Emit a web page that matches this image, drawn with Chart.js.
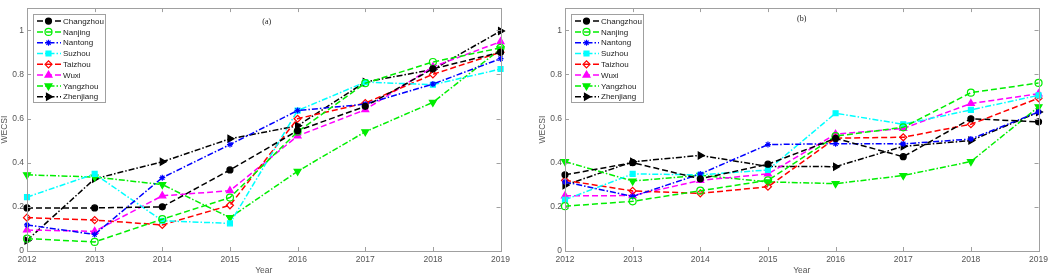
<!DOCTYPE html>
<html lang="en">
<head>
    <meta charset="UTF-8">
    <title>WECSI 2012-2019</title>
    <script src="https://cdn.jsdelivr.net/npm/chart.js"></script>
    <style>
        body {
            margin: 0;
            padding: 0;
            background-color: #ffffff;
            width: 1052px;
            height: 276px;
            position: relative;
            overflow: hidden;
        }
        .panel {
            position: absolute;
            top: 0;
            width: 514px;
            height: 276px;
        }
    </style>
</head>
<body>
    <div class="panel" style="left: 0px;"><canvas id="chartA" width="514" height="276"></canvas></div>
    <div class="panel" style="left: 538px;"><canvas id="chartB" width="514" height="276"></canvas></div>

    <script>
        // x categories and y ticks
        const years = ['2012', '2013', '2014', '2015', '2016', '2017', '2018', '2019'];
        const yTicks = [0, 0.2, 0.4, 0.6, 0.8, 1];
        const cities = ['Changzhou', 'Nanjing', 'Nantong', 'Suzhou', 'Taizhou', 'Wuxi', 'Yangzhou', 'Zhenjiang'];

        // panel (a)
        const changzhouA = [0.195, 0.195, 0.20, 0.367, 0.545, 0.655, 0.825, 0.90];
        const nanjingA   = [0.056, 0.041, 0.144, 0.242, 0.54, 0.76, 0.856, 0.92];
        const nantongA   = [0.118, 0.075, 0.332, 0.482, 0.636, 0.665, 0.756, 0.871];
        const suzhouA    = [0.244, 0.349, 0.137, 0.125, 0.636, 0.765, 0.753, 0.824];
        const taizhouA   = [0.151, 0.14, 0.118, 0.207, 0.599, 0.67, 0.80, 0.90];
        const wuxiA      = [0.095, 0.089, 0.25, 0.273, 0.521, 0.64, 0.834, 0.948];
        const yangzhouA  = [0.345, 0.335, 0.301, 0.151, 0.361, 0.54, 0.673, 0.915];
        const zhenjiangA = [0.048, 0.327, 0.404, 0.508, 0.567, 0.765, 0.822, 0.996];

        // panel (b)
        const changzhouB = [0.345, 0.40, 0.327, 0.393, 0.51, 0.427, 0.599, 0.585];
        const nanjingB   = [0.203, 0.225, 0.273, 0.32, 0.52, 0.56, 0.717, 0.761];
        const nantongB   = [0.313, 0.247, 0.349, 0.482, 0.486, 0.485, 0.507, 0.63];
        const suzhouB    = [0.232, 0.349, 0.345, 0.367, 0.624, 0.574, 0.639, 0.705];
        const taizhouB   = [0.32, 0.272, 0.261, 0.291, 0.511, 0.515, 0.574, 0.692];
        const wuxiB      = [0.25, 0.251, 0.32, 0.349, 0.529, 0.555, 0.668, 0.712];
        const yangzhouB  = [0.405, 0.317, 0.343, 0.313, 0.305, 0.342, 0.405, 0.653];
        const zhenjiangB = [0.298, 0.404, 0.433, 0.383, 0.382, 0.474, 0.50, 0.629];

        // matlab-like line specs, same order as cities
        const DASH = [6, 3];
        const DASHDOT = [6, 2, 1.5, 2];
        const seriesStyle = [
            { color: '#000000', dash: DASH,    marker: 'circle',   rot: 0,   fill: true,  r: 3 },
            { color: '#00ee00', dash: DASH,    marker: 'circle',   rot: 0,   fill: false, r: 3.5 },
            { color: '#0000ff', dash: DASHDOT, marker: 'star',     rot: 0,   fill: false, r: 3 },
            { color: '#00ffff', dash: DASHDOT, marker: 'rect',     rot: 0,   fill: true,  r: 3.5 },
            { color: '#ff0000', dash: DASH,    marker: 'rectRot',  rot: 0,   fill: false, r: 3.5 },
            { color: '#ff00ff', dash: DASH,    marker: 'triangle', rot: 0,   fill: true,  r: 4 },
            { color: '#00ee00', dash: DASHDOT, marker: 'triangle', rot: 180, fill: true,  r: 4 },
            { color: '#000000', dash: DASHDOT, marker: 'triangle', rot: 90,  fill: true,  r: 4 }
        ];

        const FONT = "'Liberation Sans', Arial, sans-serif";

        const makeDatasets = (seriesList) => seriesList.map((vals, i) => {
            const s = seriesStyle[i];
            return {
                label: cities[i],
                data: vals,
                borderColor: s.color,
                borderWidth: 1.5,
                borderDash: s.dash,
                tension: 0,
                fill: false,
                pointStyle: s.marker,
                pointRotation: s.rot,
                pointRadius: s.r,
                pointBorderWidth: 1.2,
                pointBorderColor: s.color,
                pointBackgroundColor: s.fill ? s.color : 'rgba(0,0,0,0)'
            };
        });

        // box, inward ticks, in-plot legend and panel tag
        const matlabFrame = {
            id: 'matlabFrame',
            afterDraw(chart, args, opts) {
                const { ctx, chartArea: a, scales: { x, y } } = chart;
                ctx.save();
                ctx.setLineDash([]);
                ctx.strokeStyle = '#a0a0a0';
                ctx.lineWidth = 1;
                ctx.strokeRect(Math.round(a.left) + 0.5, Math.round(a.top) + 0.5,
                    Math.round(a.right - a.left), Math.round(a.bottom - a.top));
                ctx.beginPath();
                x.ticks.forEach((t, i) => {
                    const px = Math.round(x.getPixelForTick(i)) + 0.5;
                    ctx.moveTo(px, a.bottom); ctx.lineTo(px, a.bottom - 4);
                    ctx.moveTo(px, a.top); ctx.lineTo(px, a.top + 4);
                });
                y.ticks.forEach((t, i) => {
                    const py = Math.round(y.getPixelForTick(i)) + 0.5;
                    ctx.moveTo(a.left, py); ctx.lineTo(a.left + 4, py);
                    ctx.moveTo(a.right, py); ctx.lineTo(a.right - 4, py);
                });
                ctx.stroke();

                // panel tag
                ctx.fillStyle = '#222';
                ctx.font = "8px 'Liberation Serif', 'Times New Roman', serif";
                ctx.textAlign = 'center';
                ctx.textBaseline = 'middle';
                ctx.fillText(opts.tag, (a.left + a.right) / 2 + opts.tagDx, a.top + opts.tagDy);

                // legend box
                const bx = a.left + 6, by = a.top + 5.5, bw = 72, bh = 88;
                ctx.fillStyle = '#ffffff';
                ctx.fillRect(bx, by, bw, bh);
                ctx.strokeStyle = '#a0a0a0';
                ctx.strokeRect(Math.round(bx) + 0.5, Math.round(by) + 0.5, bw, bh);

                ctx.font = '8px ' + FONT;
                ctx.textAlign = 'left';
                chart.data.datasets.forEach((ds, i) => {
                    const ry = by + 7.5 + i * 10.8;
                    ctx.save();
                    ctx.strokeStyle = ds.borderColor;
                    ctx.lineWidth = 1.5;
                    ctx.setLineDash(ds.borderDash);
                    ctx.beginPath();
                    ctx.moveTo(bx + 4, ry);
                    ctx.lineTo(bx + 28, ry);
                    ctx.stroke();
                    ctx.setLineDash([]);
                    ctx.fillStyle = ds.pointBackgroundColor;
                    ctx.lineWidth = 1.2;
                    if (Chart.helpers && Chart.helpers.drawPoint) {
                        Chart.helpers.drawPoint(ctx, {
                            pointStyle: ds.pointStyle,
                            rotation: ds.pointRotation,
                            radius: ds.pointRadius,
                            borderWidth: 1.2
                        }, bx + 15.5, ry);
                    }
                    ctx.restore();
                    ctx.fillStyle = '#222';
                    ctx.fillText(ds.label, bx + 30, ry + 0.5);
                });
                ctx.restore();
            }
        };

        const makeOptions = (tag, tagDx, tagDy) => ({
            responsive: false,
            animation: false,
            events: [],
            layout: { padding: { top: 1, right: 11, bottom: 0, left: 0 } },
            plugins: {
                legend: { display: false },
                tooltip: { enabled: false },
                matlabFrame: { tag: tag, tagDx: tagDx, tagDy: tagDy }
            },
            scales: {
                x: {
                    type: 'category',
                    offset: false,
                    grid: { display: false, drawTicks: false },
                    border: { display: false },
                    ticks: {
                        padding: 4,
                        color: '#555',
                        maxRotation: 0,
                        autoSkip: false,
                        font: { family: FONT, size: 8.5 }
                    },
                    title: {
                        display: true,
                        text: 'Year',
                        color: '#555',
                        padding: 0,
                        font: { family: FONT, size: 8.5 }
                    },
                    afterFit: (scale) => { scale.height = 25; }
                },
                y: {
                    min: 0,
                    max: 1.1,
                    grid: { display: false, drawTicks: false },
                    border: { display: false },
                    afterBuildTicks: (scale) => {
                        scale.ticks = yTicks.map(v => ({ value: v }));
                    },
                    ticks: {
                        padding: 3,
                        color: '#555',
                        font: { family: FONT, size: 8.5 },
                        callback: (v) => String(Math.round(v * 10) / 10)
                    },
                    title: {
                        display: true,
                        text: 'WECSI',
                        color: '#555',
                        padding: 0,
                        font: { family: FONT, size: 8.5 }
                    },
                    afterFit: (scale) => { scale.width = 27; }
                }
            }
        });

        new Chart(document.getElementById('chartA').getContext('2d'), {
            type: 'line',
            data: {
                labels: years,
                datasets: makeDatasets([changzhouA, nanjingA, nantongA, suzhouA, taizhouA, wuxiA, yangzhouA, zhenjiangA])
            },
            options: makeOptions('(a)', 3, 14),
            plugins: [matlabFrame]
        });

        new Chart(document.getElementById('chartB').getContext('2d'), {
            type: 'line',
            data: {
                labels: years,
                datasets: makeDatasets([changzhouB, nanjingB, nantongB, suzhouB, taizhouB, wuxiB, yangzhouB, zhenjiangB])
            },
            options: makeOptions('(b)', 0, 11),
            plugins: [matlabFrame]
        });
    </script>
</body>
</html>
